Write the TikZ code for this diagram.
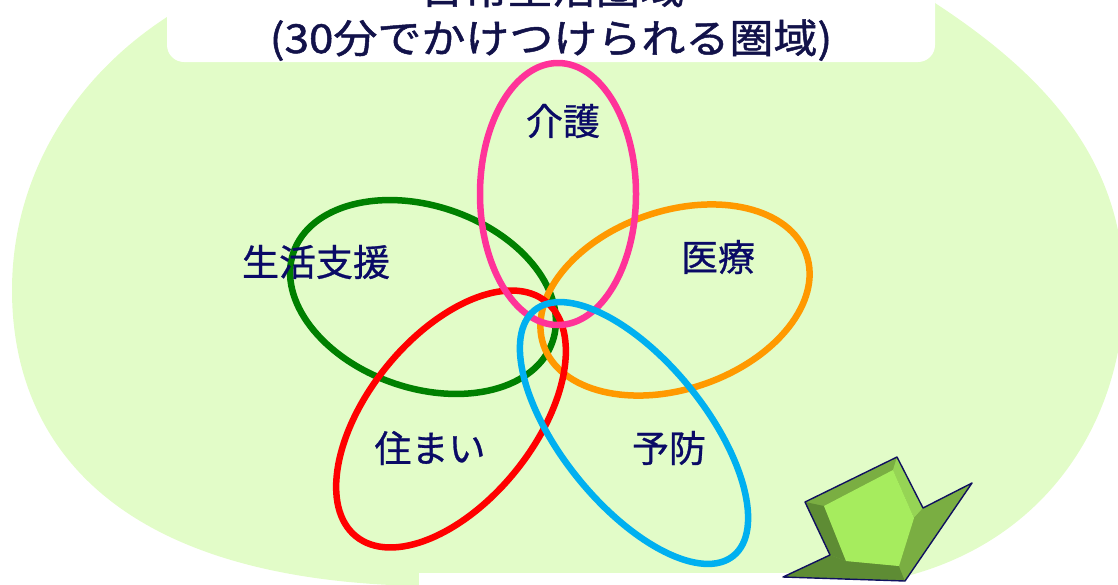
\documentclass[tikz,border=0pt]{standalone}
\usepackage{fontspec}
\newfontfamily\jpt[FakeBold=1.2, FakeStretch=1.1]{Noto Sans CJK JP}
\newfontfamily\jpl[FakeBold=0.8]{Noto Sans CJK JP}
\definecolor{bgG}{HTML}{E2FCC8}
\definecolor{titleC}{HTML}{12124A}
\definecolor{labC}{HTML}{0A0A66}
\definecolor{cPink}{HTML}{FF3399}
\definecolor{cOrange}{HTML}{FF9900}
\definecolor{cGreen}{HTML}{008000}
\definecolor{cRed}{HTML}{FF0000}
\definecolor{cBlue}{HTML}{00B0F0}
\definecolor{aFace}{HTML}{A6EC5E}
\definecolor{aLight}{HTML}{96D455}
\definecolor{aMid}{HTML}{7AAE42}
\definecolor{aDark}{HTML}{5E8C34}
\definecolor{aLine}{HTML}{101060}
\tikzset{
  ring/.style={line width=6.5pt},
  lab/.style={font=\jpl\fontsize{37}{37}\selectfont, text=labC, inner sep=0pt},
  ttl/.style={font=\jpt\fontsize{40}{40}\selectfont, text=titleC, inner sep=0pt},
}
\begin{document}
\begin{tikzpicture}[x=1pt,y=-1pt]
\useasboundingbox (0,0) rectangle (1118,584);
% green background
\fill[bgG] (167,17) .. controls (70,80) and (12,180) .. (12,290)
  .. controls (12,440) and (110,580) .. (420,586)
  -- (880,582) .. controls (1045,552) and (1124,420) .. (1124,290)
  .. controls (1124,160) and (1045,75) .. (935,3)
  -- (935,-50) -- (167,-50) -- cycle;
% white title box and bottom strip
\fill[white, rounded corners=17] (167,-40) rectangle (935,62);
\fill[white] (419,573) rectangle (905,600);
% titles
\node[ttl, anchor=base] (t1) at (552,4) {日常生活圏域};
\node[ttl, anchor=base] (t2) at (551,53) {(30分でかけつけられる圏域)};
% rings
\draw[ring, cGreen] [rotate around={-19:(423,297)}] (423,297) ellipse (137 and 91);
\draw[ring, cOrange] [rotate around={19:(675,300)}] (675,300) ellipse (139 and 89);
\draw[ring, cRed] [rotate around={51:(451,419)}] (451,419) ellipse (151 and 83);
\draw[ring, cPink] (558,194) ellipse (78 and 131);
\draw[ring, cBlue] [rotate around={-51:(634,433)}] (634,433) ellipse (158 and 72);
% labels
\node[lab] (kaigo) at (563,121) {介護};
\node[lab] (iryo) at (718,257) {医療};
\node[lab] (seikatsu) at (316,262) {生活支援};
\node[lab] (sumai) at (430,448) {住まい};
\node[lab] (yobo) at (669,448) {予防};
% arrow
\coordinate (o1) at (805,502);
\coordinate (o2) at (897,457);
\coordinate (o3) at (923,508);
\coordinate (o4) at (972,483);
\coordinate (o5) at (905,581);
\coordinate (o6) at (783,577);
\coordinate (o7) at (830,555);
\coordinate (i1) at (824,506);
\coordinate (i2) at (893,470);
\coordinate (i3) at (914,518);
\coordinate (i4) at (899,566);
\coordinate (i5) at (846,561);
\fill[aMid] (o1) -- (o2) -- (o3) -- (o4) -- (o5) -- (o6) -- (o7) -- cycle;
\fill[aDark] (o1) -- (i1) -- (i5) -- (o7) -- cycle;
\fill[aDark] (o7) -- (i5) -- (i4) -- (o5) -- (o6) -- cycle;
\fill[aLight] (o2) -- (o3) -- (i3) -- (i2) -- cycle;
\fill[aMid] (o3) -- (o4) -- (o5) -- (i4) -- (i3) -- cycle;
\fill[aFace] (i1) -- (i2) -- (i3) -- (i4) -- (i5) -- cycle;
\draw[aLine, line width=1.4pt, line join=round] (o1) -- (o2) -- (o3) -- (o4) -- (o5) -- (o6) -- (o7) -- cycle;
\end{tikzpicture}
\end{document}
